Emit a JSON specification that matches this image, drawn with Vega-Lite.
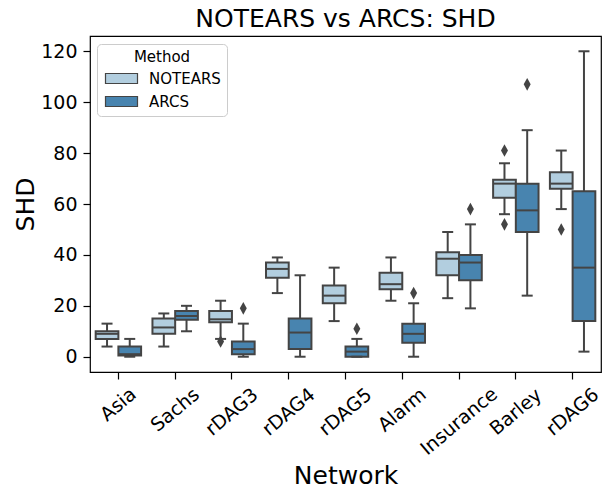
{
  "$schema": "https://vega.github.io/schema/vega-lite/v6.json",
  "width": 511,
  "height": 336,
  "autosize": {"type": "none"},
  "padding": {"left": 90, "top": 36, "right": 4, "bottom": 116},
  "background": "white",
  "title": {"text": "NOTEARS vs ARCS: SHD", "fontSize": 25, "font": "DejaVu Sans", "fontWeight": "normal", "color": "#000000", "anchor": "middle", "frame": "group", "offset": 9, "baseline": "alphabetic", "dy": 25},
  "datasets": {
    "boxes": [
      {"Network": "Asia", "Method": "NOTEARS", "min": 4, "q1": 7, "median": 9, "q3": 10, "max": 13},
      {"Network": "Asia", "Method": "ARCS", "min": 0, "q1": 0.5, "median": 1, "q3": 4, "max": 7},
      {"Network": "Sachs", "Method": "NOTEARS", "min": 4, "q1": 9, "median": 11.5, "q3": 15, "max": 17},
      {"Network": "Sachs", "Method": "ARCS", "min": 10, "q1": 14.5, "median": 16, "q3": 18, "max": 20},
      {"Network": "rDAG3", "Method": "NOTEARS", "min": 7, "q1": 13.5, "median": 14.7, "q3": 18, "max": 22},
      {"Network": "rDAG3", "Method": "ARCS", "min": 0, "q1": 1, "median": 3, "q3": 6, "max": 13},
      {"Network": "rDAG4", "Method": "NOTEARS", "min": 25, "q1": 31, "median": 34.5, "q3": 37, "max": 39},
      {"Network": "rDAG4", "Method": "ARCS", "min": 0, "q1": 3, "median": 9.5, "q3": 15, "max": 32},
      {"Network": "rDAG5", "Method": "NOTEARS", "min": 14, "q1": 21, "median": 24, "q3": 28, "max": 35},
      {"Network": "rDAG5", "Method": "ARCS", "min": 0, "q1": 0, "median": 2, "q3": 4, "max": 7},
      {"Network": "Alarm", "Method": "NOTEARS", "min": 22, "q1": 26.5, "median": 28.5, "q3": 33, "max": 39},
      {"Network": "Alarm", "Method": "ARCS", "min": 0, "q1": 5.5, "median": 9, "q3": 13, "max": 21},
      {"Network": "Insurance", "Method": "NOTEARS", "min": 23, "q1": 32, "median": 38.5, "q3": 41, "max": 49},
      {"Network": "Insurance", "Method": "ARCS", "min": 19, "q1": 30, "median": 37, "q3": 40, "max": 52},
      {"Network": "Barley", "Method": "NOTEARS", "min": 56, "q1": 62.5, "median": 68, "q3": 69.5, "max": 76},
      {"Network": "Barley", "Method": "ARCS", "min": 24, "q1": 49, "median": 57.5, "q3": 68, "max": 89},
      {"Network": "rDAG6", "Method": "NOTEARS", "min": 58, "q1": 66, "median": 68, "q3": 72.5, "max": 81},
      {"Network": "rDAG6", "Method": "ARCS", "min": 2, "q1": 14, "median": 35, "q3": 65, "max": 120}
    ],
    "outliers": [
      {"Network": "rDAG3", "Method": "NOTEARS", "SHD": 6},
      {"Network": "rDAG3", "Method": "ARCS", "SHD": 19},
      {"Network": "rDAG5", "Method": "ARCS", "SHD": 11},
      {"Network": "Alarm", "Method": "ARCS", "SHD": 25},
      {"Network": "Insurance", "Method": "ARCS", "SHD": 58},
      {"Network": "Barley", "Method": "NOTEARS", "SHD": 81},
      {"Network": "Barley", "Method": "NOTEARS", "SHD": 52},
      {"Network": "Barley", "Method": "ARCS", "SHD": 107},
      {"Network": "rDAG6", "Method": "NOTEARS", "SHD": 50}
    ]
  },
  "config": {
    "font": "DejaVu Sans",
    "view": {"stroke": "#000000", "strokeWidth": 1.2},
    "axis": {"grid": false, "domain": false, "tickColor": "#000000", "tickWidth": 1.2, "tickSize": 7, "labelColor": "#000000", "titleColor": "#000000", "labelFont": "DejaVu Sans", "titleFont": "DejaVu Sans", "titleFontWeight": "normal"},
    "legend": {
      "orient": "none", "legendX": 7, "legendY": 8,
      "titleAnchor": "middle", "titleFontSize": 15, "titleFontWeight": "normal", "titleColor": "#000000", "titleFont": "DejaVu Sans",
      "labelFontSize": 15, "labelColor": "#000000", "labelFont": "DejaVu Sans", "labelOffset": 31,
      "padding": 6, "strokeColor": "#cccccc", "cornerRadius": 4, "fillColor": "#ffffff",
      "symbolType": "M-1,-1H5.4V1H-1Z", "symbolSize": 100, "symbolStrokeColor": "#444444", "symbolStrokeWidth": 1.2, "symbolOpacity": 1,
      "rowPadding": 7, "titlePadding": 6
    }
  },
  "encoding": {
    "x": {
      "field": "Network", "type": "nominal",
      "sort": ["Asia", "Sachs", "rDAG3", "rDAG4", "rDAG5", "Alarm", "Insurance", "Barley", "rDAG6"],
      "scale": {"paddingInner": 0.2, "paddingOuter": 0.1},
      "axis": {
        "title": "Network", "titleFontSize": 25, "titleY": 111, "titleBaseline": "alphabetic",
        "labelFontSize": 19, "labelAngle": -40, "labelAlign": "center", "labelBaseline": "middle",
        "labelPadding": {"condition": [{"test": "datum.label == 'Asia'", "value": 25}, {"test": "datum.label == 'Insurance'", "value": 42}, {"test": "datum.label == 'Sachs' || datum.label == 'Alarm'", "value": 30.5}], "value": 32.5}
      }
    },
    "xOffset": {"field": "Method", "type": "nominal", "sort": ["NOTEARS", "ARCS"], "scale": {"paddingInner": 0, "paddingOuter": 0}}
  },
  "layer": [
    {
      "data": {"name": "boxes"},
      "mark": {"type": "rule", "color": "#444444", "strokeWidth": 2},
      "encoding": {
        "y": {"field": "min", "type": "quantitative", "title": "SHD", "scale": {"domain": [-6, 126], "nice": false, "zero": false},
          "axis": {"values": [0, 20, 40, 60, 80, 100, 120], "labelFontSize": 19, "labelPadding": 6, "titleFontSize": 25, "titleX": -57, "titleBaseline": "alphabetic"}},
        "y2": {"field": "max"}
      }
    },
    {
      "data": {"name": "boxes"},
      "mark": {"type": "bar", "stroke": "#444444", "strokeWidth": 2, "opacity": 1},
      "encoding": {
        "y": {"field": "q1", "type": "quantitative", "title": "SHD"},
        "y2": {"field": "q3"},
        "color": {"field": "Method", "type": "nominal", "sort": ["NOTEARS", "ARCS"], "scale": {"domain": ["NOTEARS", "ARCS"], "range": ["#b2cedf", "#4884af"]}, "legend": {"title": "Method"}}
      }
    },
    {
      "data": {"name": "boxes"},
      "mark": {"type": "tick", "color": "#444444", "thickness": 2, "size": 22, "opacity": 1},
      "encoding": {"y": {"field": "median", "type": "quantitative", "title": "SHD"}}
    },
    {
      "data": {"name": "boxes"},
      "mark": {"type": "tick", "color": "#444444", "thickness": 2, "size": 11, "opacity": 1},
      "encoding": {"y": {"field": "min", "type": "quantitative", "title": "SHD"}}
    },
    {
      "data": {"name": "boxes"},
      "mark": {"type": "tick", "color": "#444444", "thickness": 2, "size": 11, "opacity": 1},
      "encoding": {"y": {"field": "max", "type": "quantitative", "title": "SHD"}}
    },
    {
      "data": {"name": "outliers"},
      "mark": {"type": "point", "shape": "M0,-1L0.55,0L0,1L-0.55,0Z", "filled": true, "color": "#444444", "size": 160, "opacity": 1},
      "encoding": {"y": {"field": "SHD", "type": "quantitative", "title": "SHD"}}
    }
  ]
}
